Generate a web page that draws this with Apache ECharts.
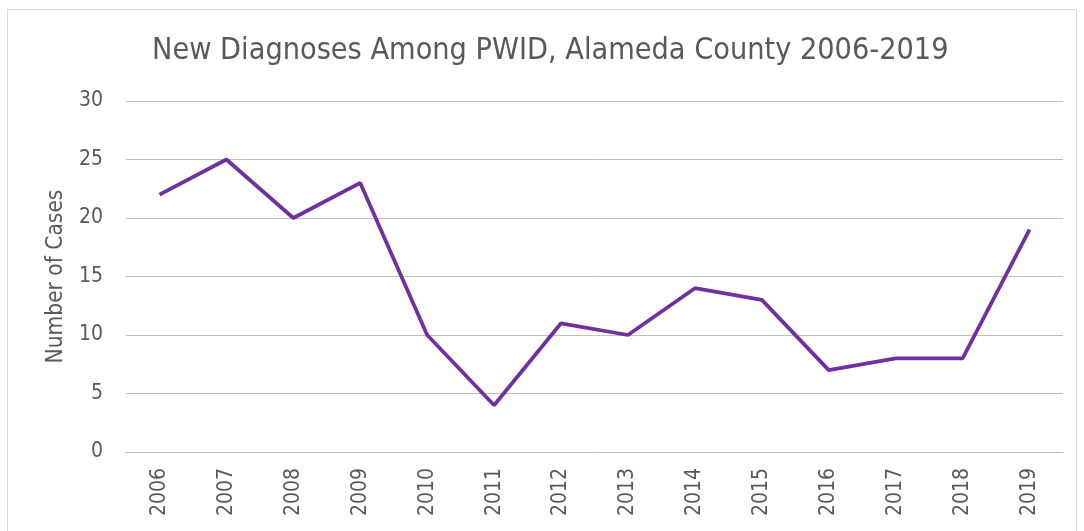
<!DOCTYPE html>
<html><head><meta charset="utf-8">
<script src="https://cdn.jsdelivr.net/npm/echarts@6/dist/echarts.min.js"></script>
<style>
html,body{margin:0;padding:0;background:#fff;}
#frame{position:absolute;left:7px;top:9px;width:1070px;height:540px;border:1px solid #d9d9d9;box-sizing:border-box;}
#c{position:absolute;left:0;top:0;width:1084px;height:531px;}
</style></head>
<body><div id="frame"></div><div id="c"></div>
<script>
const years = ['2006','2007','2008','2009','2010','2011','2012','2013','2014','2015','2016','2017','2018','2019'];
const cases = [22,25,20,23,10,4,11,10,14,13,7,8,8,19];
const yTicks = {min:0,max:30,interval:5};
const chart = echarts.init(document.getElementById('c'));
const font = '"DejaVu Sans Condensed", "DejaVu Sans", sans-serif';
chart.setOption({
  animation:false,
  title:{text:'New Diagnoses Among PWID, Alameda County 2006-2019',left:147,top:31,
    textStyle:{fontFamily:font,fontSize:30.3,fontWeight:'normal',color:'#595959'}},
  grid:{left:126,right:21,top:101,bottom:79},
  xAxis:{type:'category',data:years,boundaryGap:true,
    axisLine:{show:true,lineStyle:{color:'#bfbfbf',width:1}},axisTick:{show:false},
    axisLabel:{rotate:90,fontFamily:font,fontSize:21,color:'#595959',margin:16}},
  yAxis:{type:'value',min:yTicks.min,max:yTicks.max,interval:yTicks.interval,
    name:'Number of Cases',nameLocation:'middle',nameGap:57,
    nameTextStyle:{fontFamily:font,fontSize:22.5,color:'#595959'},
    axisLine:{show:false},axisTick:{show:false},
    axisLabel:{fontFamily:font,fontSize:21,color:'#595959',margin:23},
    splitLine:{lineStyle:{color:'#bfbfbf',width:1}}},
  series:[{type:'line',data:cases,symbol:'none',lineStyle:{color:'#7030a0',width:3.75},itemStyle:{color:'#7030a0'}}]
});
</script></body></html>
